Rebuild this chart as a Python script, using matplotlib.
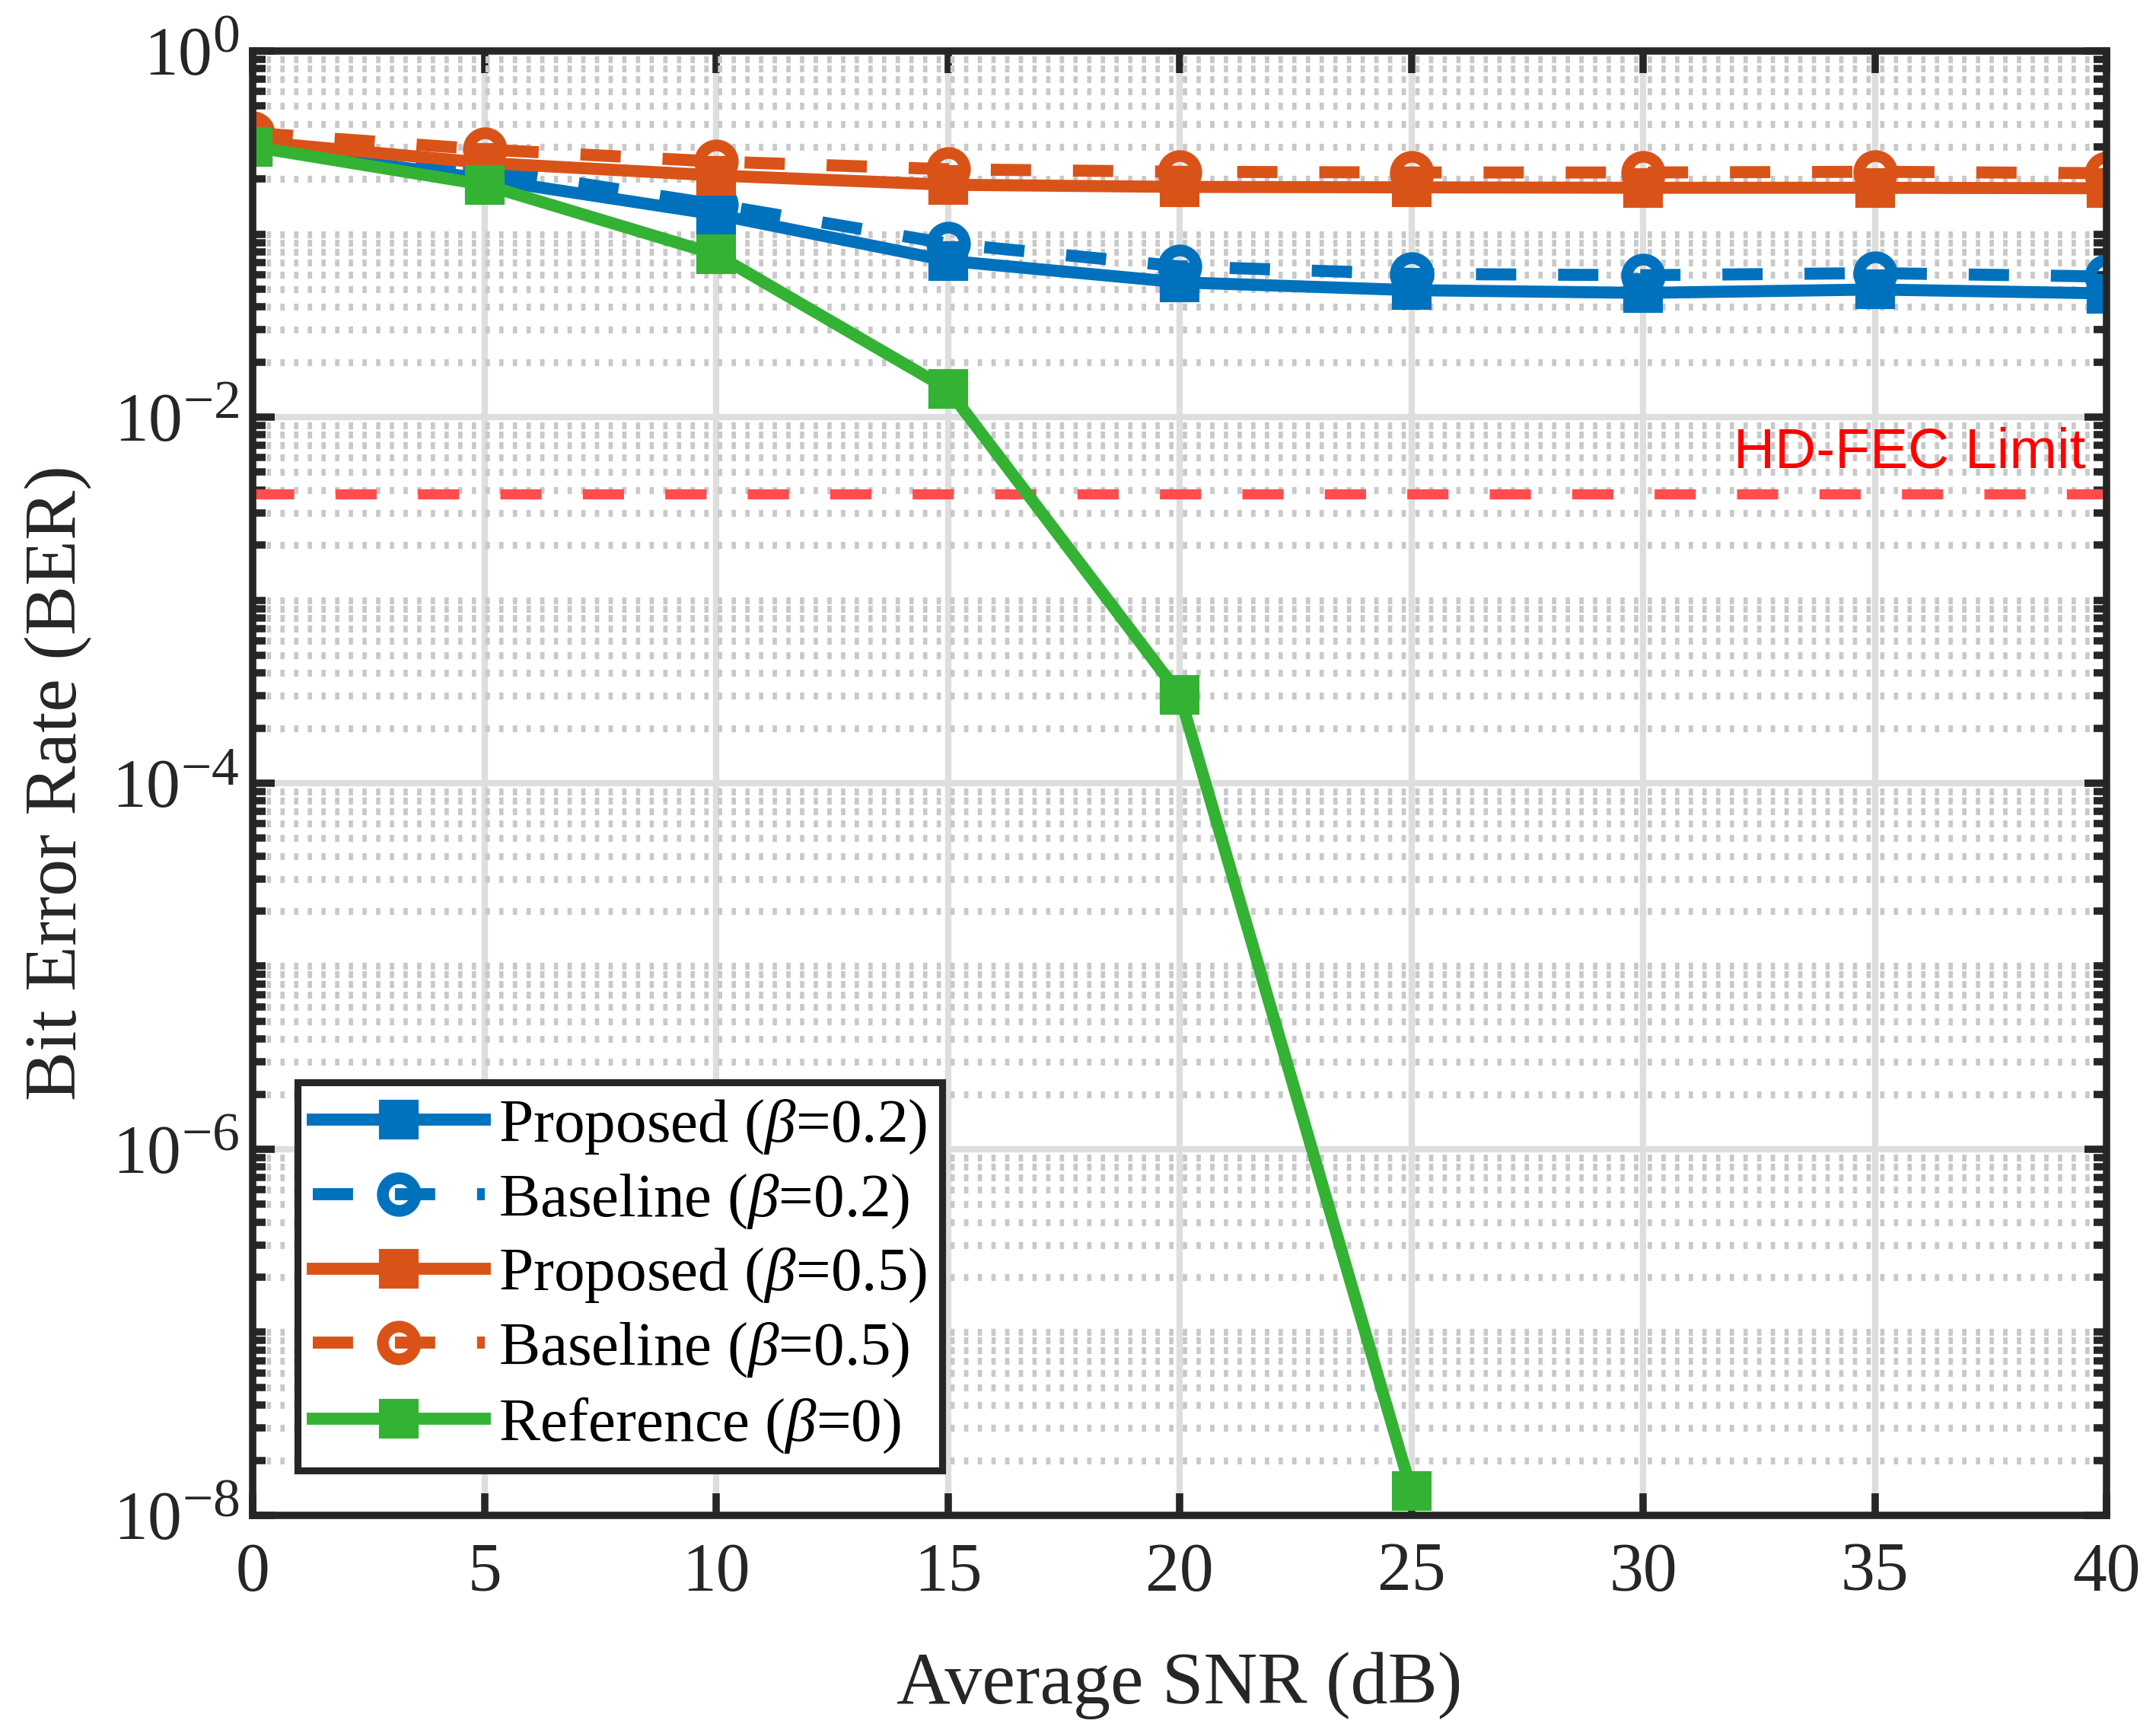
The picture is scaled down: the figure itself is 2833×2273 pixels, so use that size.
import numpy as np
import matplotlib
matplotlib.use('Agg')
import matplotlib.pyplot as plt
from matplotlib import ticker, transforms
try:
    import matplotlib._mathtext as _mt
    _mt.SHRINK_FACTOR = 0.8
except Exception:
    pass

plt.rcParams['font.family'] = ['Liberation Serif', 'DejaVu Serif']
plt.rcParams['mathtext.fontset'] = 'custom'
plt.rcParams['mathtext.rm'] = 'Liberation Serif'
plt.rcParams['mathtext.it'] = 'Liberation Serif:italic'
plt.rcParams['mathtext.bf'] = 'Liberation Serif:bold'

# ---------------- data ----------------
snr = [0, 5, 10, 15, 20, 25, 30, 35, 40]
prop_02 = [0.300, 0.200, 0.128, 0.0715, 0.0545, 0.0494, 0.0477, 0.0498, 0.0474]
base_02 = [0.312, 0.228, 0.145, 0.0887, 0.0666, 0.0606, 0.0596, 0.0612, 0.0586]
prop_05 = [0.321, 0.245, 0.209, 0.186, 0.181, 0.180, 0.179, 0.179, 0.178]
base_05 = [0.357, 0.290, 0.249, 0.226, 0.219, 0.217, 0.217, 0.219, 0.215]
ref_snr = [0, 5, 10, 15, 20, 25]
ref_0 = [0.300, 0.186, 0.0774, 0.0142, 3.05e-4, 1.36e-8]
hd_fec = 3.8e-3

labels = [r'Proposed ($\beta$=0.2)', r'Baseline ($\beta$=0.2)',
          r'Proposed ($\beta$=0.5)', r'Baseline ($\beta$=0.5)',
          r'Reference ($\beta$=0)']
x_ticks = [0, 5, 10, 15, 20, 25, 30, 35, 40]
y_major = [1e-8, 1e-6, 1e-4, 1e-2, 1e0]

blue = '#0072BD'
orange = '#D95319'
green = '#33B233'
axc = '#262626'

fig = plt.figure(figsize=(2833 / 300, 2273 / 300), dpi=300)
ax = fig.add_axes([0.1172, 0.1241, 0.9771 - 0.1172, 0.9705 - 0.1241])

lw = 3.8
sq = dict(marker='s', ms=11.5, mew=1.0)
ci = dict(marker='o', ms=10.3, mew=3.7, mfc='none')
dash = (12.7 / lw, 13.2 / lw)

ax.plot(snr, prop_02, color=blue, lw=lw, ls='-', mfc=blue, mec=blue, label=labels[0], **sq)
ax.plot(snr, base_02, color=blue, lw=lw, dashes=dash, mec=blue, label=labels[1], **ci)
ax.plot(snr, prop_05, color=orange, lw=lw, ls='-', mfc=orange, mec=orange, label=labels[2], **sq)
ax.plot(snr, base_05, color=orange, lw=lw, dashes=dash, mec=orange, label=labels[3], **ci)
ax.plot(ref_snr, ref_0, color=green, lw=lw, ls='-', mfc=green, mec=green, label=labels[4], **sq)

rlw = 3.2
ax.axhline(hd_fec, color=(1.0, 0.3, 0.3), lw=rlw, dashes=(13.0 / rlw, 13.0 / rlw), zorder=1.5)
trans = transforms.blended_transform_factory(ax.transAxes, ax.transData)
ax.text(0.9885, 5.3e-3, 'HD-FEC Limit', transform=trans, ha='right', va='baseline',
        color='#FF0000', fontsize=18, family='Liberation Sans')

ax.set_yscale('log')
ax.set_xlim(0, 40)
ax.set_ylim(1e-8, 1e0)
ax.xaxis.set_major_locator(ticker.FixedLocator(x_ticks))
ax.yaxis.set_major_locator(ticker.FixedLocator(y_major))
ax.yaxis.set_minor_locator(ticker.LogLocator(base=10, subs=np.arange(1, 10), numticks=60))
ax.yaxis.set_minor_formatter(ticker.NullFormatter())
ax.yaxis.set_major_formatter(ticker.FuncFormatter(lambda v, p: r'$10^{%d}$' % int(round(np.log10(v)))))
ax.xaxis.set_major_formatter(ticker.FuncFormatter(lambda v, p: '%d' % v))

ax.set_axisbelow(True)
ax.grid(True, which='major', axis='both', color='#dedede', lw=2.0, ls='-')
ax.grid(True, which='minor', axis='y', color='#c9c9c9', lw=2.2, ls=(0, (0.62, 1.34)))

for s in ax.spines.values():
    s.set_linewidth(2.3)
    s.set_color(axc)
ax.tick_params(which='both', direction='in', top=True, right=True, width=2.3, color=axc,
               labelcolor=axc, labelsize=21.5)
ax.tick_params(which='major', length=7)
ax.tick_params(which='minor', length=4)
ax.tick_params(axis='x', pad=8.5)
ax.tick_params(axis='y', pad=4.2)

ax.set_xlabel('Average SNR (dB)', fontsize=23.5, color=axc, va='baseline')
ax.xaxis.set_label_coords(0.5, -0.1284)
ax.set_ylabel('Bit Error Rate (BER)', fontsize=23.5, color=axc, va='baseline')
ax.yaxis.set_label_coords(-0.0952, 0.5)

leg = ax.legend(loc='lower left', bbox_to_anchor=(0.0241, 0.0307), borderaxespad=0,
                fontsize=19.5, handlelength=2.78, handletextpad=0.22, borderpad=0.25,
                labelspacing=0.262, fancybox=False, framealpha=1, edgecolor=axc, numpoints=1)
leg.get_frame().set_linewidth(2.2)
for t in leg.get_texts():
    t.set_color('black')

fig.savefig('out.png', dpi=300)
